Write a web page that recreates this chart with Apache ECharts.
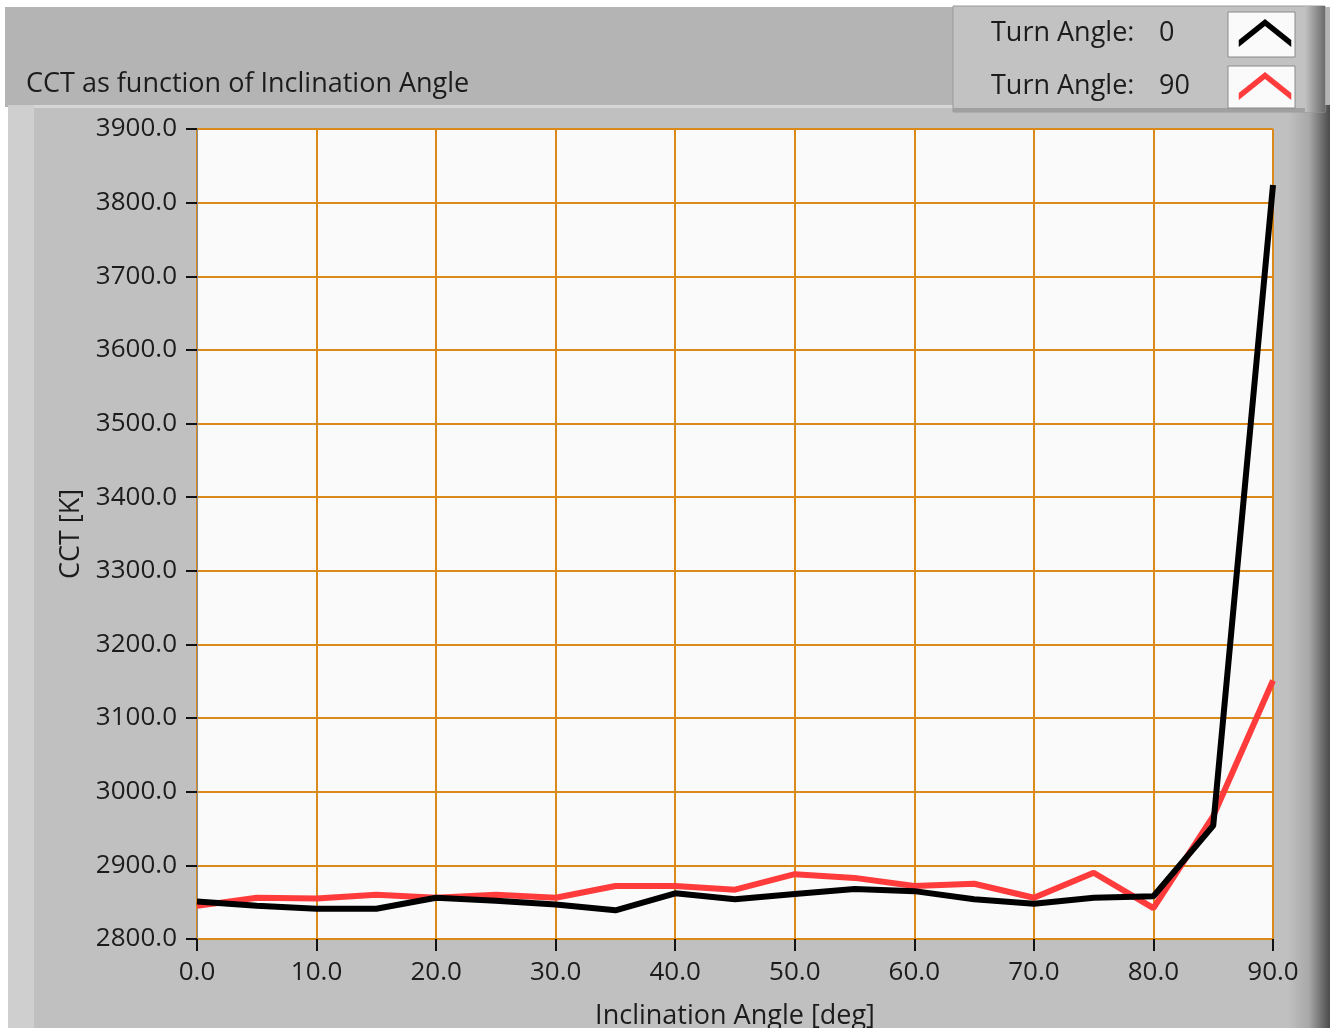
<!DOCTYPE html>
<html>
<head>
<meta charset="utf-8">
<script src="https://cdn.jsdelivr.net/npm/echarts@6/dist/echarts.min.js"></script>
<style>
html,body{margin:0;padding:0;background:#ffffff;}
#chart{width:1330px;height:1028px;}
</style>
</head>
<body>
<div id="chart"></div>
<script>
// ---- data ----
const inclination = [0,5,10,15,20,25,30,35,40,45,50,55,60,65,70,75,80,85,90];
const turn0 = [2851,2845,2841,2841,2856,2852,2847,2839,2862,2854,2861,2868,2865,2854,2848,2856,2858,2954,3824];
const turn90 = [2845,2856,2855,2860,2856,2860,2856,2872,2872,2867,2888,2883,2872,2875,2856,2890,2842,2967,3151];
const seriesNames = ['Turn Angle: 0','Turn Angle: 90'];
const xTicks = ['0.0','10.0','20.0','30.0','40.0','50.0','60.0','70.0','80.0','90.0'];

const FONT = 'Open Sans';
const TXT = '#1c1c1c';
const chart = echarts.init(document.getElementById('chart'), null, {renderer:'canvas'});
const chevron = 'path://M0,26 L30,2 L60,26 L60,34 L30,10 L0,34 Z';

chart.setOption({
  animation:false,
  backgroundColor:'#ffffff',
  title:{
    text:'CCT as function of Inclination Angle',
    left:21, top:66,
    textStyle:{fontFamily:FONT,fontSize:27,fontWeight:'normal',color:TXT}
  },
  graphic:[
    {type:'rect',z:-100,shape:{x:5,y:7,width:1325,height:100},style:{fill:'#b4b4b4'}},
    {type:'rect',z:-100,shape:{x:8,y:105,width:1290,height:923},style:{fill:'#c0c0c0'}},
    {type:'rect',z:-99,shape:{x:8,y:105,width:1290,height:3},style:{fill:'#d6d6d6'}},
    {type:'rect',z:-99,shape:{x:8,y:105,width:26,height:923},style:{fill:'#cfcfcf'}},
    {type:'rect',z:-99,shape:{x:1288,y:105,width:42,height:923},style:{fill:new echarts.graphic.LinearGradient(0,0,1,0,[{offset:0,color:'#c0c0c0'},{offset:0.5,color:'#a8a8a8'},{offset:1,color:'#4a4a4a'}])}},
    {type:'rect',z:-98,shape:{x:953,y:6,width:372,height:106},style:{fill:'#c2c2c2',stroke:'#9a9a9a',lineWidth:1}},
    {type:'rect',z:-97,shape:{x:953,y:108,width:372,height:4},style:{fill:'#a0a0a0'}},
    {type:'rect',z:-97,shape:{x:1305,y:6,width:20,height:106},style:{fill:new echarts.graphic.LinearGradient(0,0,1,0,[{offset:0,color:'#c2c2c2'},{offset:1,color:'#6a6a6a'}])}},
    {type:'rect',z:-96,shape:{x:1228,y:12,width:67,height:45},style:{fill:'#fafafa',stroke:'#8a8a8a',lineWidth:1}},
    {type:'rect',z:-96,shape:{x:1228,y:66,width:67,height:42},style:{fill:'#fafafa',stroke:'#8a8a8a',lineWidth:1}}
  ],
  legend:{
    orient:'vertical',
    left:986, top:14,
    align:'right',
    itemWidth:58, itemHeight:28,
    itemGap:25,
    icon:chevron,
    data:seriesNames,
    formatter:function(name){
      const v = name.split(':')[1].trim();
      return '{a|Turn Angle:}{b|' + v + '}';
    },
    textStyle:{
      fontFamily:FONT,fontSize:27,color:TXT,
      rich:{
        a:{fontFamily:FONT,fontSize:27,color:TXT,width:168,align:'left'},
        b:{fontFamily:FONT,fontSize:27,color:TXT,width:72,align:'left'}
      }
    }
  },
  grid:{
    left:197, top:129, width:1076, height:810,
    outerBoundsMode:'none', containLabel:false,
    show:true, backgroundColor:'#fafafa', borderColor:'#8c8c8c', borderWidth:1
  },
  xAxis:{
    type:'value', min:0, max:90, interval:10,
    name:'Inclination Angle [deg]', nameLocation:'middle', nameGap:64,
    nameTextStyle:{fontFamily:FONT,fontSize:27,color:TXT},
    axisLine:{show:false},
    axisTick:{show:true,length:12,inside:false,lineStyle:{color:'#111',width:2}},
    axisLabel:{fontFamily:FONT,fontSize:26,color:TXT,margin:21,
      formatter:function(v){return xTicks[Math.round(v/10)];}},
    splitLine:{show:true,lineStyle:{color:'#d98a1a',width:2}}
  },
  yAxis:{
    type:'value', min:2800, max:3900, interval:100,
    name:'CCT [K]', nameLocation:'middle', nameGap:112, nameRotate:90,
    nameTextStyle:{fontFamily:FONT,fontSize:27,color:TXT},
    axisLine:{show:true,lineStyle:{color:'#8c8c8c',width:1}},
    axisTick:{show:true,length:11,inside:false,lineStyle:{color:'#111',width:2}},
    axisLabel:{fontFamily:FONT,fontSize:26,color:TXT,margin:20,
      formatter:function(v){return v.toFixed(1);}},
    splitLine:{show:true,lineStyle:{color:'#d98a1a',width:2}}
  },
  series:[
    {name:seriesNames[1], type:'line', data:inclination.map((x,i)=>[x,turn90[i]]),
     showSymbol:false, lineStyle:{color:'#ff3b3b',width:6}, itemStyle:{color:'#ff3b3b'}, z:3},
    {name:seriesNames[0], type:'line', data:inclination.map((x,i)=>[x,turn0[i]]),
     showSymbol:false, lineStyle:{color:'#000000',width:6}, itemStyle:{color:'#000000'}, z:4}
  ]
});
</script>
</body>
</html>
